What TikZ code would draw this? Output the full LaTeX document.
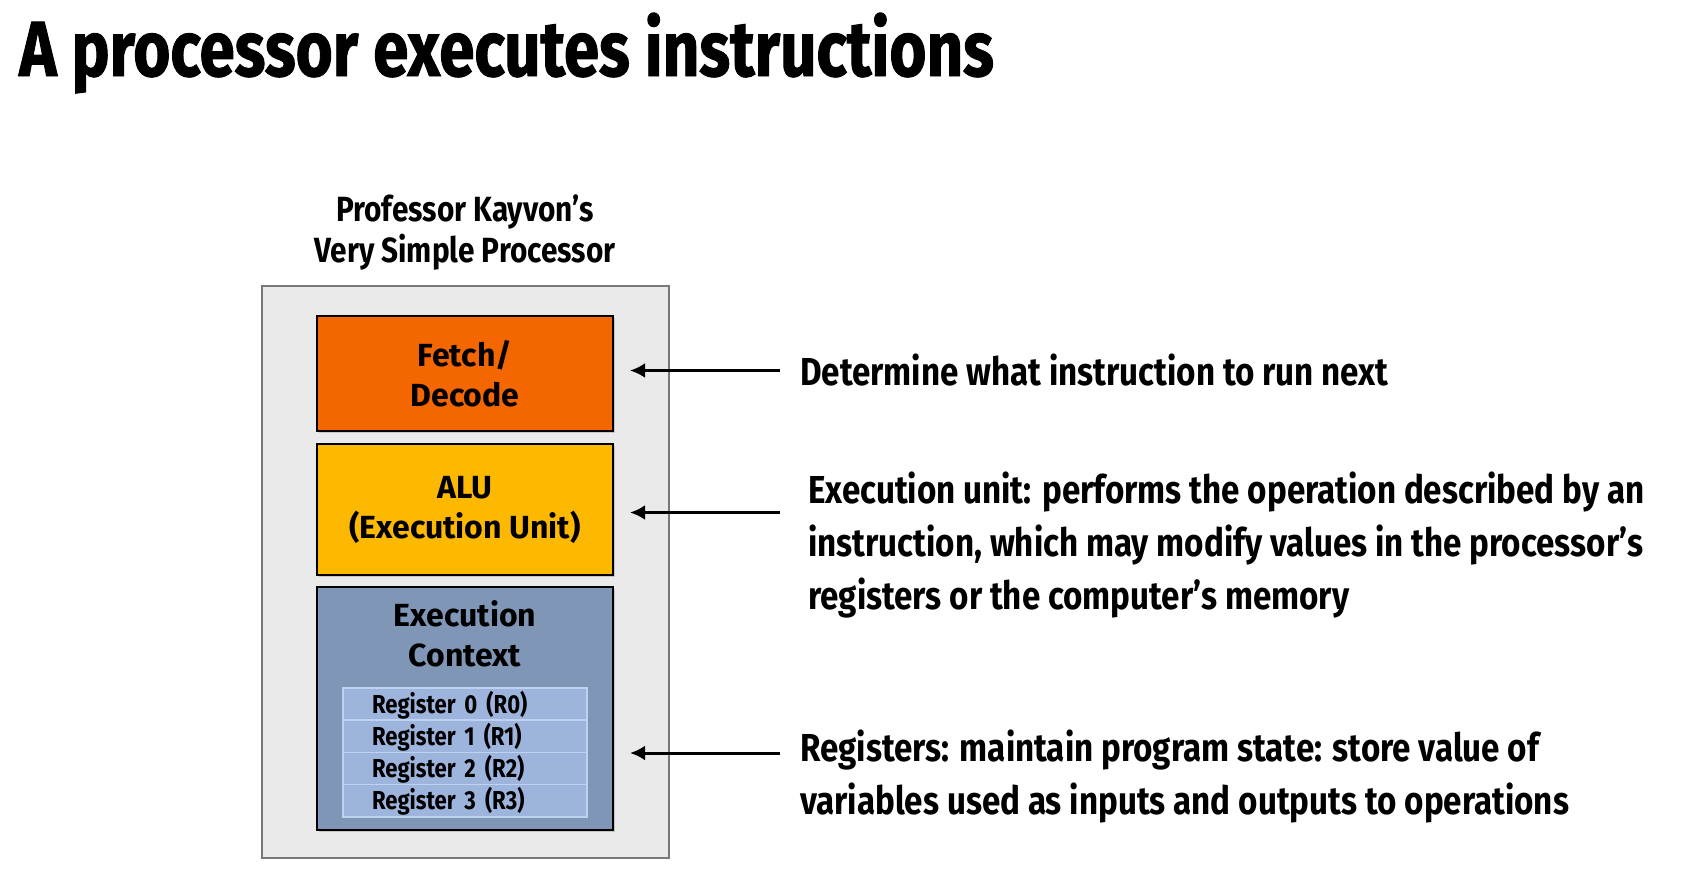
\documentclass[tikz,border=0pt]{standalone}
\usepackage{fontspec}
\setmainfont{Fira Sans}
\newfontfamily\narrowfont{Fira Sans}[FakeStretch=0.85]
\newfontfamily\titlefont{Fira Sans}[FakeStretch=0.815,FakeBold=1.2]
\usetikzlibrary{positioning,arrows.meta,shadows}
\tikzset{>={Latex[length=15pt,width=15pt]}}

\definecolor{fetchorange}{RGB}{243,102,0}
\definecolor{aluyellow}{RGB}{253,185,0}
\definecolor{ctxblue}{RGB}{128,150,183}
\definecolor{regblue}{RGB}{157,181,221}
\definecolor{regedge}{RGB}{192,210,242}
\definecolor{cpugray}{RGB}{234,234,234}
\definecolor{cpuedge}{RGB}{120,120,120}

\begin{document}
\begin{tikzpicture}[x=1pt,y=-1pt,
                    cpu/.style={draw=cpuedge,line width=2pt,fill=cpugray,minimum width=407pt,minimum height=572pt},
                    unit/.style={draw,line width=2pt,minimum width=296pt,align=center,
                                 font=\bfseries\fontsize{32}{40}\selectfont,
                                 drop shadow={shadow xshift=2pt,shadow yshift=-2pt,opacity=.35}},
                    reg/.style={draw=regedge,line width=1.5pt,fill=regblue,text width=186pt,inner xsep=29pt,inner ysep=0pt,
                                text height=25.25pt,text depth=7pt,align=left,
                                font=\narrowfont\bfseries\fontsize{26}{30}\selectfont},
                    note/.style={inner sep=0pt,align=left,font=\narrowfont\bfseries\fontsize{39}{53}\selectfont},
                    pointer/.style={<-,line width=3pt,shorten <=16pt,shorten >=20pt}
        ]
    \useasboundingbox (0,0) rectangle (1696,876);
    \node[anchor=base west,inner sep=0pt,font=\titlefont\bfseries\fontsize{78}{90}\selectfont] (title) at (19,76) {A processor executes instructions};

    \node[cpu] (cpu) at (465.5,572) {};
    % base anchor of a two-line node sits on its last line
    \node[anchor=base,align=center,inner sep=0pt,font=\narrowfont\bfseries\fontsize{35}{41}\selectfont] (name) at (465,262) {Professor Kayvon’s\\Very Simple Processor};

    \node[unit,fill=fetchorange,minimum height=115pt] (fetch) at (465,373.5) {Fetch/\\Decode};
    \node[unit,fill=aluyellow,minimum height=131pt,below=11pt of fetch] (alu) {ALU\\(Execution Unit)};
    \node[unit,fill=ctxblue,minimum height=243pt,below=10pt of alu] (ctx) {};
    \node[anchor=base,align=center,inner sep=0pt,font=\bfseries\fontsize{32}{40}\selectfont] (ctxname) at ([yshift=-80pt]ctx.north) {Execution\\Context};

    \node[reg,anchor=north] (r0) at ([yshift=-101pt]ctx.north) {Register 0\hspace{.35em}(R0)};
    \node[reg,below=-1.5pt of r0] (r1) {Register 1\hspace{.35em}(R1)};
    \node[reg,below=-1.5pt of r1] (r2) {Register 2\hspace{.35em}(R2)};
    \node[reg,below=-1.5pt of r2] (r3) {Register 3\hspace{.35em}(R3)};

    \node[note,anchor=base west] (fetchnote) at (800,385) {Determine what instruction to run next};
    \node[note,anchor=base west] (alunote) at (808,609) {Execution unit: performs the operation described by an\\instruction, which may modify values in the processor’s\\registers or the computer’s memory};
    \node[note,anchor=base west] (regnote) at (800,814) {Registers: maintain program state: store value of\\variables used as inputs and outputs to operations};

    \draw[pointer] ([yshift=3pt]fetch.east) -- ([yshift=3pt]fetch.east -| fetchnote.west);
    \draw[pointer] ([yshift=-3pt]alu.east) -- ([yshift=-3pt]alu.east -| fetchnote.west);
    \draw[pointer] (ctx.east |- r1.south) -- (r1.south -| fetchnote.west);
\end{tikzpicture}
\end{document}
